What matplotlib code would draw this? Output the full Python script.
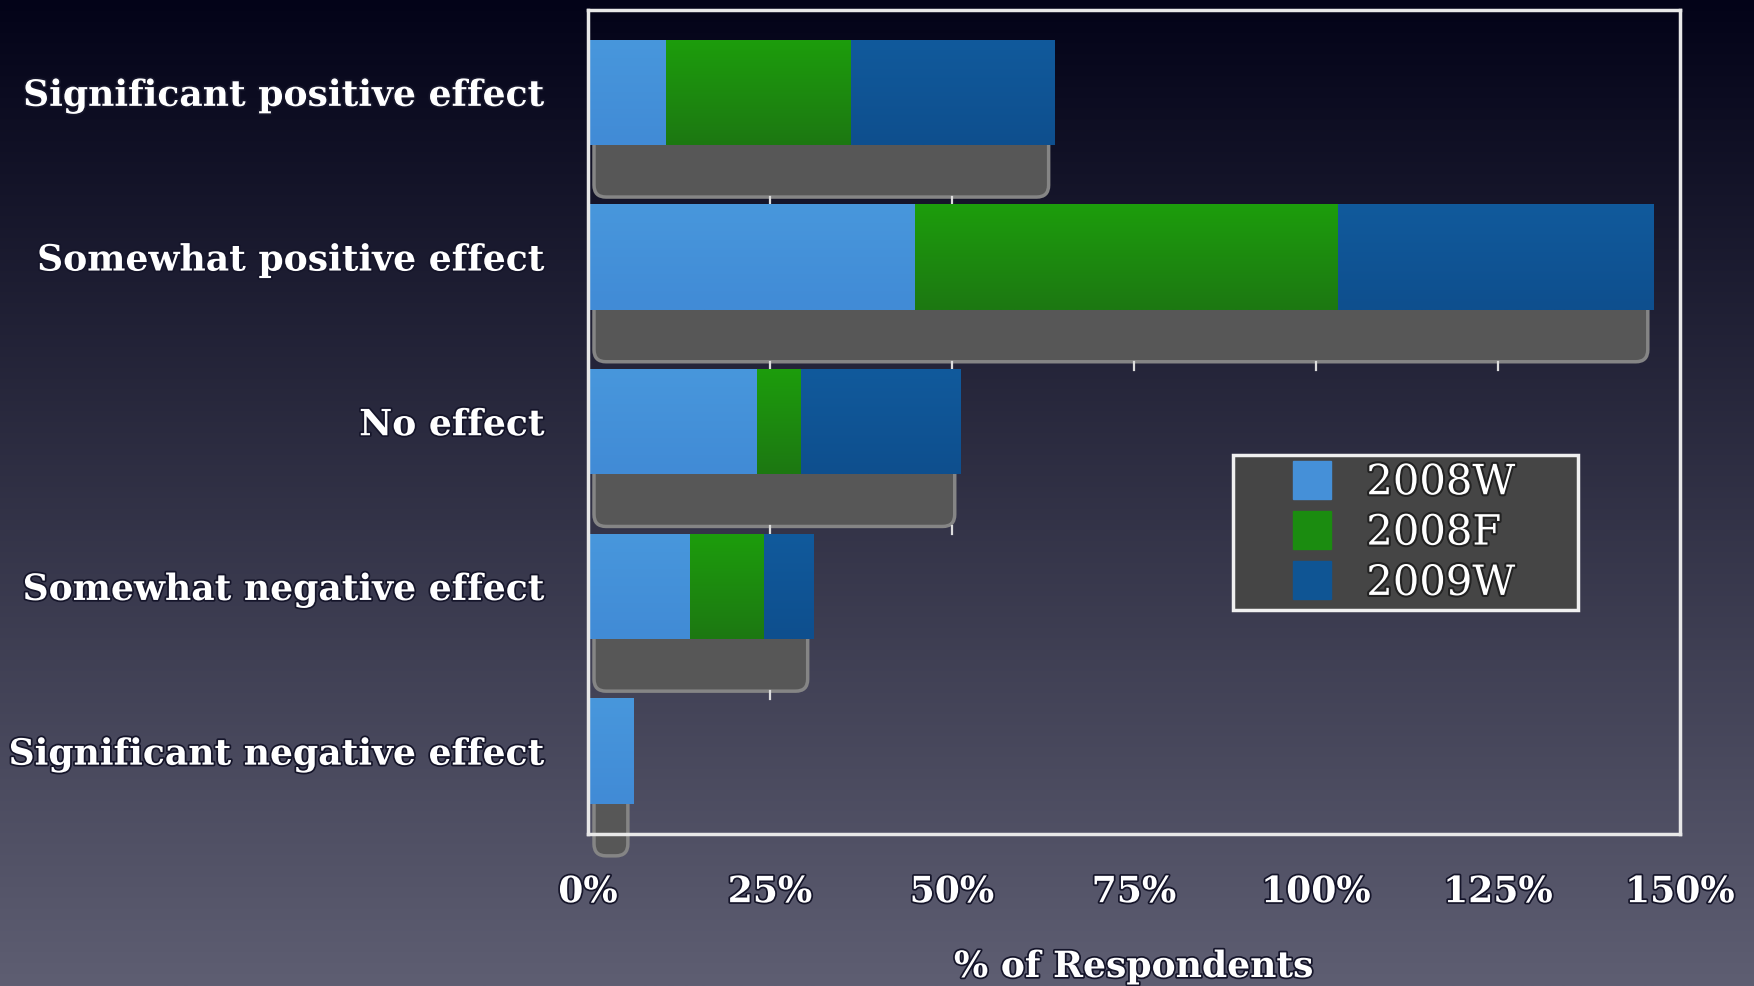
import numpy as np
import matplotlib
matplotlib.use("Agg")
import matplotlib.pyplot as plt
from matplotlib.colors import LinearSegmentedColormap
from matplotlib.lines import Line2D
from matplotlib.patches import FancyBboxPatch
import matplotlib.patheffects as pe

# survey answers, % of respondents per wave
categories = ["Significant positive effect", "Somewhat positive effect",
              "No effect", "Somewhat negative effect",
              "Significant negative effect"]
w2008 = [10.7, 44.9, 23.2, 14.0, 6.3]
f2008 = [25.4, 58.1, 6.1, 10.2, 0.0]
w2009 = [28.0, 43.4, 21.9, 6.8, 0.0]
series_names = ["2008W", "2008F", "2009W"]
xticks = [0, 25, 50, 75, 100, 125, 150]

# (top, bottom) colours for the bar gradients
grad = [("#4897dc", "#418bd6"), ("#1d9d0c", "#1c7812"), ("#115a9c", "#0e4f8e")]
mid = ["#4590d8", "#1b8c10", "#0f5594"]

serif = "DejaVu Serif"
W, H = 1754, 987
fig = plt.figure(figsize=(W / 100, H / 100), dpi=100)

# background: dark navy at the top fading to slate grey
bg = fig.add_axes([0, 0, 1, 1], zorder=-10)
bg.set_axis_off()
top = np.array([3, 3, 24]) / 255
bot = np.array([94, 94, 114]) / 255
t = np.linspace(0, 1, 400)[:, None, None]
img = top * (1 - t) + bot * t
bg.imshow(np.repeat(img, 2, axis=1), aspect="auto", extent=(0, 1, 0, 1))

ax = fig.add_axes([588 / W, 1 - 834.5 / H, (1680 - 588) / W, (834.5 - 11) / H])
ax.patch.set_alpha(0)
ax.set_xlim(0, 150)
ax.set_ylim(4.5, -0.5)

y = np.arange(len(categories))
h = 0.64
data = np.array([w2008, f2008, w2009])
totals = data.sum(axis=0)

# pixel scale for the rounded shadow corners
px_x = ax.transData.transform((1, 0))[0] - ax.transData.transform((0, 0))[0]
px_y = abs(ax.transData.transform((0, 1))[1] - ax.transData.transform((0, 0))[1])
inset = 6 / px_x
drop = 52 / px_y
for yi, tot in zip(y, totals):
    sh = FancyBboxPatch((inset, yi), tot - 2 * inset, h / 2 + drop,
                        boxstyle="round,pad=0,rounding_size=%f" % (12 / px_x),
                        mutation_aspect=px_x / px_y,
                        fc="#575757", ec="#858585", lw=2.5, zorder=1,
                        clip_on=False)
    ax.add_patch(sh)
    # small grid ticks peeking out under the shadow
    for g in xticks[1:-1]:
        if g < tot:
            ax.plot([g, g], [yi + h / 2 + drop, yi + h / 2 + drop + 8 / px_y],
                    color="#dddddd", lw=1.6, zorder=1)

left = np.zeros(len(categories))
for k, vals in enumerate(data):
    bars = ax.barh(y, vals, left=left, height=h, color=mid[k], lw=0, zorder=2)
    cmap = LinearSegmentedColormap.from_list("g%d" % k, list(grad[k]))
    for b in bars:
        x0, w = b.get_x(), b.get_width()
        if w <= 0:
            continue
        yb = b.get_y()
        im = ax.imshow(np.linspace(0, 1, 50)[:, None], cmap=cmap, aspect="auto",
                       origin="upper", extent=(x0, x0 + w, yb + h, yb),
                       zorder=3)
        im.set_clip_path(b)
    left += vals
ax.set_xlim(0, 150)
ax.set_ylim(4.5, -0.5)

for s in ax.spines.values():
    s.set_color("#e8e8e8")
    s.set_linewidth(2.5)
    s.set_zorder(5)

shadow = [pe.withStroke(linewidth=2.5, foreground="#15152a")]
ax.set_xticks(xticks)
ax.set_xticklabels(["%d%%" % v for v in xticks], family=serif,
                   fontweight="bold", fontsize=26, color="white",
                   path_effects=shadow)
ax.set_yticks(y)
ax.set_yticklabels(categories, family=serif, fontweight="bold", fontsize=26,
                   color="white", path_effects=shadow)
ax.tick_params(axis="x", length=0, pad=30)
ax.tick_params(axis="y", length=0, pad=31)

fig.text((588 + 1680) / 2 / W, 1 - 968 / H, "% of Respondents", family=serif,
         fontweight="bold", fontsize=26, color="white", ha="center",
         va="center", path_effects=shadow)

handles = [Line2D([], [], marker="s", linestyle="none", markersize=27,
                  mfc=c, mec=c) for c in mid]
leg = ax.legend(handles, series_names, loc="upper left",
                bbox_to_anchor=(1233 / W, 1 - 456 / H - 0.1, 345 / W, 0.1),
                bbox_transform=fig.transFigure, mode="expand",
                borderaxespad=0, borderpad=0.15, handlelength=3.5,
                handletextpad=-0.45, labelspacing=0.2, fancybox=False,
                prop={"family": serif, "size": 30})
leg.get_frame().set_facecolor("#454545")
leg.get_frame().set_edgecolor("#f0f0f0")
leg.get_frame().set_linewidth(2.5)
leg.get_frame().set_alpha(1)
leg.set_zorder(6)
for txt in leg.get_texts():
    txt.set_color("white")
    txt.set_path_effects([pe.withStroke(linewidth=3, foreground="#222222")])

fig.savefig("out.png", dpi=100)
